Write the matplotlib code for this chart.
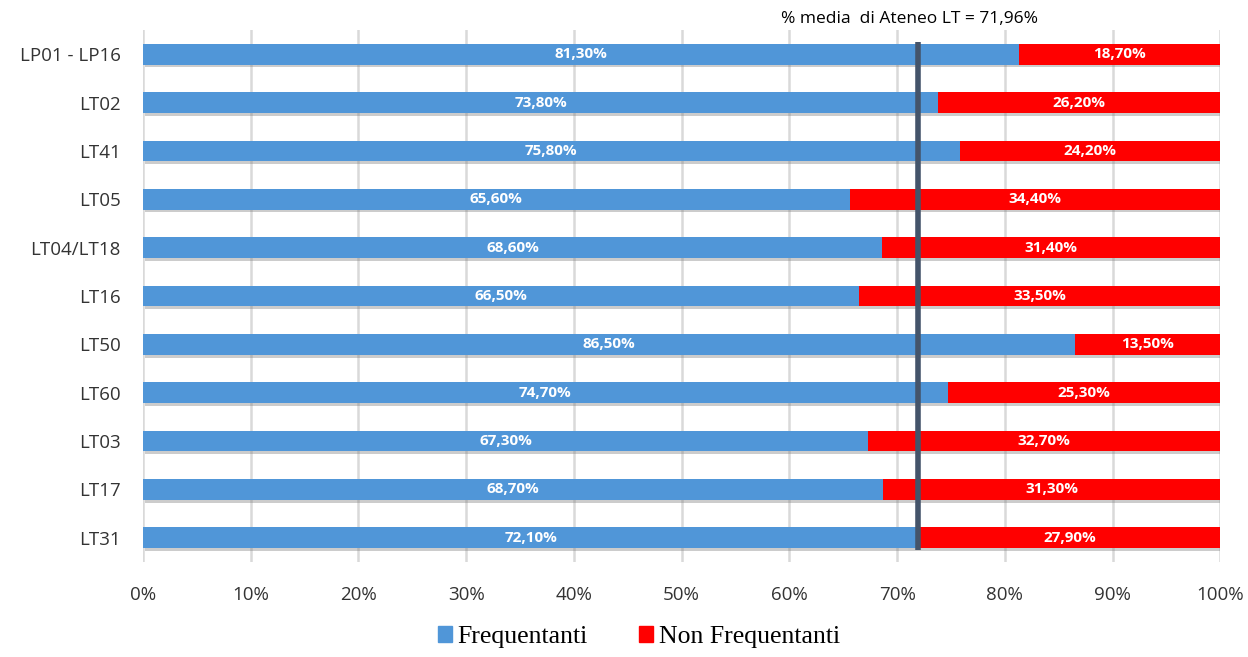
import matplotlib
matplotlib.use("Agg")
import matplotlib.pyplot as plt
import matplotlib.patheffects as pe
from matplotlib.patches import Patch

# --- data ---
corsi = ["LP01 - LP16", "LT02", "LT41", "LT05", "LT04/LT18", "LT16",
         "LT50", "LT60", "LT03", "LT17", "LT31"]
frequentanti = [81.3, 73.8, 75.8, 65.6, 68.6, 66.5, 86.5, 74.7, 67.3, 68.7, 72.1]
non_frequentanti = [18.7, 26.2, 24.2, 34.4, 31.4, 33.5, 13.5, 25.3, 32.7, 31.3, 27.9]
media_ateneo = 71.96
x_ticks = [0, 10, 20, 30, 40, 50, 60, 70, 80, 90, 100]

BLUE = "#5096D8"
RED = "#FF0000"
LINE = "#44546A"
ui_font = ["Open Sans", "DejaVu Sans"]


def fmt(v):
    return f"{v:.2f}".replace(".", ",") + "%"


fig = plt.figure(figsize=(12.48, 6.57), dpi=100)
ax = fig.add_axes([0.1146, 0.1446, 0.8632, 0.8097])

ypos = list(range(len(corsi)))
shadow = [pe.SimplePatchShadow(offset=(1.5, -2), shadow_rgbFace="#808080", alpha=0.4), pe.Normal()]

h = 0.43
b1 = ax.barh(ypos, frequentanti, height=h, color=BLUE, zorder=3)
b2 = ax.barh(ypos, non_frequentanti, left=frequentanti, height=h, color=RED, zorder=3)
for b in list(b1) + list(b2):
    b.set_path_effects(shadow)

for y, f, n in zip(ypos, frequentanti, non_frequentanti):
    ax.text(f / 2, y, fmt(f), ha="center", va="center", color="white",
            fontsize=11, fontweight="bold", family=ui_font, zorder=5)
    ax.text(f + n / 2, y, fmt(n), ha="center", va="center", color="white",
            fontsize=11, fontweight="bold", family=ui_font, zorder=5)

# mean line
ax.plot([media_ateneo, media_ateneo], [-0.25, len(corsi) - 1 + 0.25],
        color=LINE, lw=4, zorder=6, solid_capstyle="butt")
ax.text(media_ateneo - 0.8, 1.005, "% media  di Ateneo LT = " + fmt(media_ateneo),
        transform=ax.get_xaxis_transform(), ha="center", va="bottom",
        fontsize=12.5, family=ui_font, color="black")

ax.set_xlim(0, 100)
ax.set_ylim(len(corsi) - 0.5, -0.5)
ax.set_yticks(ypos)
ax.set_yticklabels(corsi, family=ui_font, fontsize=13.5, color="#333333")
ax.set_xticks(x_ticks)
ax.set_xticklabels([f"{t}%" for t in x_ticks], family=ui_font, fontsize=13.5, color="#333333")
ax.tick_params(axis="both", length=0)
ax.tick_params(axis="x", pad=17)
ax.tick_params(axis="y", pad=16)
ax.grid(axis="x", color="#D9D9D9", lw=1.8, zorder=0)
ax.set_axisbelow(True)
for s in ax.spines.values():
    s.set_visible(False)

handles = [Patch(color=BLUE, label="Frequentanti"), Patch(color=RED, label="Non Frequentanti")]
fig.legend(handles=handles, loc="lower center", bbox_to_anchor=(0.512, -0.022), ncol=2,
           frameon=False, prop={"family": ["Liberation Serif", "DejaVu Serif"], "size": 18.5},
           handlelength=0.55, handleheight=0.55, handletextpad=0.2, columnspacing=2.0)

fig.savefig("out.png", dpi=100)
